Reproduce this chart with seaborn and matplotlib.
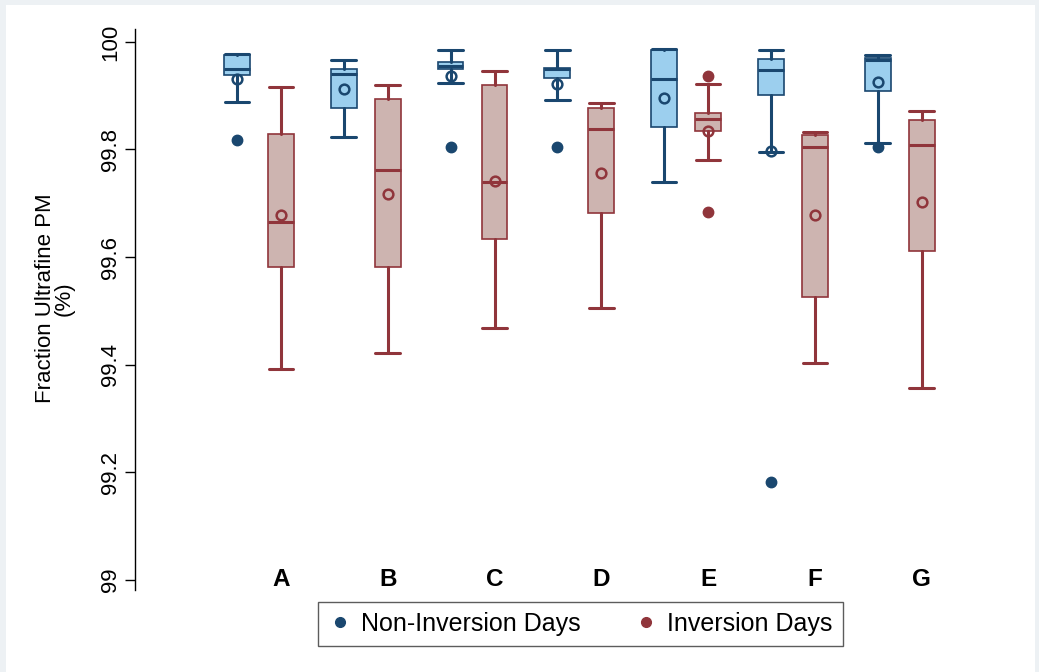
import matplotlib
matplotlib.use("Agg")
import matplotlib.pyplot as plt
from matplotlib.lines import Line2D
from matplotlib.patches import Rectangle
import seaborn as sns

# sites and box statistics (Fraction Ultrafine PM, %)
sites = ["A", "B", "C", "D", "E", "F", "G"]

non_whislo = [99.888, 99.824, 99.923, 99.892, 99.740, 99.795, 99.812]
non_q1     = [99.939, 99.877, 99.949, 99.933, 99.841, 99.901, 99.908]
non_med    = [99.949, 99.941, 99.955, 99.949, 99.931, 99.947, 99.967]
non_q3     = [99.976, 99.950, 99.963, 99.952, 99.985, 99.969, 99.970]
non_whishi = [99.978, 99.967, 99.985, 99.985, 99.987, 99.985, 99.976]
non_mean   = [99.931, 99.912, 99.936, 99.921, 99.895, 99.798, 99.926]
non_fliers = [[99.817], [], [99.804], [99.804], [], [99.182], [99.805]]

inv_whislo = [99.392, 99.421, 99.469, 99.506, 99.781, 99.403, 99.356]
inv_q1     = [99.581, 99.581, 99.634, 99.682, 99.835, 99.525, 99.612]
inv_med    = [99.666, 99.762, 99.740, 99.838, 99.856, 99.804, 99.809]
inv_q3     = [99.829, 99.893, 99.920, 99.877, 99.867, 99.827, 99.855]
inv_whishi = [99.916, 99.919, 99.945, 99.886, 99.921, 99.833, 99.872]
inv_mean   = [99.678, 99.717, 99.742, 99.757, 99.835, 99.678, 99.702]
inv_fliers = [[], [], [], [], [99.937, 99.683], [], []]

NAVY = "#1a476f"
NAVY_FILL = "#9ccfee"
MAROON = "#90353b"
MAROON_FILL = "#cdb4b0"


def make_stats(lo, q1, med, q3, hi, fl):
    return [dict(whislo=a, q1=b, med=c, q3=d, whishi=e, fliers=f)
            for a, b, c, d, e, f in zip(lo, q1, med, q3, hi, fl)]


sns.set_style("ticks")
plt.rcParams["font.family"] = ["Liberation Sans", "DejaVu Sans"]
plt.rcParams["text.color"] = "black"
plt.rcParams["ytick.color"] = "black"
plt.rcParams["axes.labelcolor"] = "black"

fig = plt.figure(figsize=(10.39, 6.72), dpi=100)
fig.patch.set_facecolor("#edf1f4")
# white graph region inside the light outer band
fig.add_artist(Rectangle((6 / 1039, 0), (1035 - 6) / 1039, 1 - 5 / 672,
                         transform=fig.transFigure, facecolor="white",
                         edgecolor="none", zorder=-10))

ax = fig.add_axes([135 / 1039, 1 - 590 / 672, (1000 - 135) / 1039, (590 - 29) / 672])
ax.set_facecolor("none")
ax.set_zorder(2)

idx = list(range(len(sites)))
off = 0.206
width = 0.243
pos_non = [i - off for i in idx]
pos_inv = [i + off for i in idx]

groups = [
    (pos_non, make_stats(non_whislo, non_q1, non_med, non_q3, non_whishi, non_fliers),
     non_mean, NAVY, NAVY_FILL),
    (pos_inv, make_stats(inv_whislo, inv_q1, inv_med, inv_q3, inv_whishi, inv_fliers),
     inv_mean, MAROON, MAROON_FILL),
]

for pos, stats, means, edge, fill in groups:
    ax.bxp(stats, positions=pos, widths=width, capwidths=width * 0.95,
           patch_artist=True, showfliers=True, manage_ticks=False,
           boxprops=dict(facecolor=fill, edgecolor=edge, linewidth=1.2),
           medianprops=dict(color=edge, linewidth=2.2),
           whiskerprops=dict(color=edge, linewidth=2.2),
           capprops=dict(color=edge, linewidth=2.2),
           flierprops=dict(marker="o", markerfacecolor=edge, markeredgecolor=edge,
                           markersize=7.5))
    ax.plot(pos, means, linestyle="none", marker="o", markersize=7,
            markerfacecolor="none", markeredgecolor=edge, markeredgewidth=1.8,
            zorder=5)

ax.set_xlim(-1.161, 6.94)
ax.set_ylim(98.981, 100.024)
ax.set_yticks([99, 99.2, 99.4, 99.6, 99.8, 100])
ax.set_yticklabels(["99", "99.2", "99.4", "99.6", "99.8", "100"],
                   rotation=90, va="center", fontsize=16)
ax.tick_params(axis="y", length=7, width=1, pad=3, color="black")
ax.set_xticks([])
for s in ["top", "right", "bottom"]:
    ax.spines[s].set_visible(False)
ax.spines["left"].set_linewidth(1)
ax.spines["left"].set_color("black")

for p, name in zip(pos_inv, sites):
    ax.text(p, 99.0, name, ha="center", va="center", fontsize=17.5,
            fontweight="bold")

ax.set_ylabel("Fraction Ultrafine PM\n(%)", fontsize=16, linespacing=0.85)
ax.yaxis.set_label_coords(-0.07, 0.52)

handles = [
    Line2D([], [], linestyle="none", marker="o", markersize=7,
           markerfacecolor=NAVY, markeredgecolor=NAVY, label="Non-Inversion Days"),
    Line2D([], [], linestyle="none", marker="o", markersize=7,
           markerfacecolor=MAROON, markeredgecolor=MAROON, label="Inversion Days"),
]
fig.legend(handles=handles, loc="center", bbox_to_anchor=(580 / 1039, 1 - 624 / 672),
           ncol=2, frameon=True, fancybox=False, edgecolor="#333333",
           fontsize=18, handletextpad=0.35, columnspacing=2.1,
           borderpad=0.4, handlelength=1.0)

fig.savefig("out.png", dpi=100, facecolor=fig.get_facecolor())
